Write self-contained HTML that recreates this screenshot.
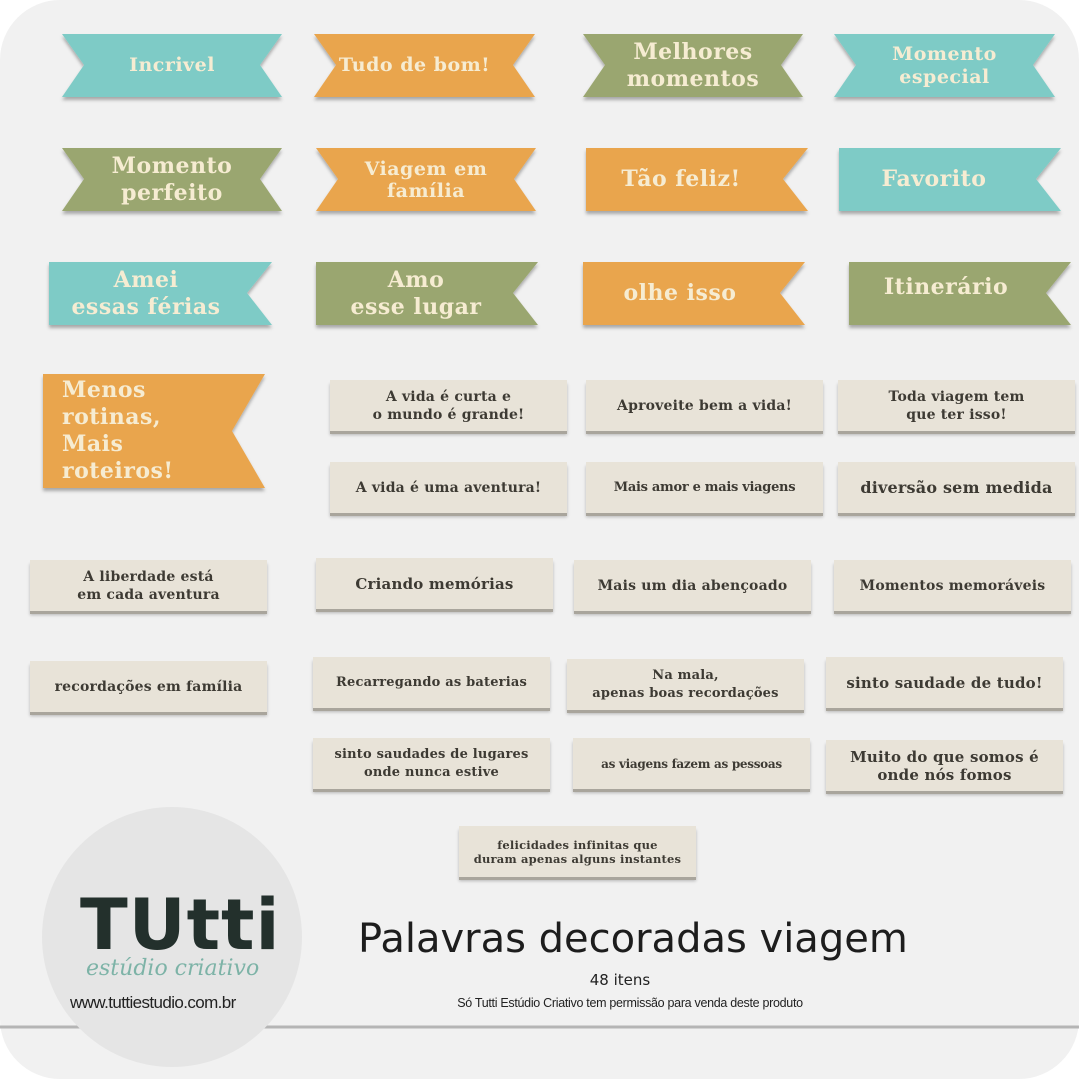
<!DOCTYPE html>
<html><head><meta charset="utf-8"><style>
html,body{margin:0;padding:0}
body{width:1079px;height:1079px;position:relative;overflow:hidden;background:#fff;font-family:"DejaVu Serif","Liberation Serif",serif}
.bg{position:absolute;left:0;top:0;width:1079px;height:1079px;background:#f1f1f1;border-radius:60px}
.l{position:absolute;width:237px;height:51px;background:#e8e3d8;box-shadow:0 3px 0 #a9a59c,0 4px 3px rgba(0,0,0,.25);display:flex;align-items:center;justify-content:center;text-align:center;font-weight:bold;font-size:14px;line-height:18px;color:#3d3a33;letter-spacing:0.2px}
.t{position:absolute;color:#f6ecd2;font-weight:bold;text-align:center;display:flex;align-items:center;justify-content:center;line-height:27px;font-size:22px;letter-spacing:0.5px}
svg{position:absolute;left:0;top:0}
</style></head><body>
<div class="bg"></div>
<svg width="1079" height="1079">
<defs><filter id="s" x="-5%" y="-5%" width="110%" height="120%"><feDropShadow dx="0" dy="3" stdDeviation="1.5" flood-color="#000" flood-opacity=".3"/></filter></defs>
<g filter="url(#s)">
<polygon fill="#7ecbc6" points="62,34 282,34 260,65 282,97 62,97 84,65"/>
<polygon fill="#e9a54e" points="314,34 535,34 513,65 535,97 314,97 336,65"/>
<polygon fill="#9aa66f" points="583,34 803,34 781,65 803,97 583,97 605,65"/>
<polygon fill="#7ecbc6" points="834,34 1055,34 1033,65 1055,97 834,97 856,65"/>
<polygon fill="#9aa66f" points="62,148 282,148 260,179 282,211 62,211 84,179"/>
<polygon fill="#e9a54e" points="316,148 536,148 514,179 536,211 316,211 338,179"/>
<polygon fill="#e9a54e" points="586,148 808,148 783,179 808,211 586,211"/>
<polygon fill="#7ecbc6" points="839,148 1061,148 1036,179 1061,211 839,211"/>
<polygon fill="#7ecbc6" points="49,262 272,262 247,293 272,325 49,325"/>
<polygon fill="#9aa66f" points="316,262 538,262 513,293 538,325 316,325"/>
<polygon fill="#e9a54e" points="583,262 805,262 780,293 805,325 583,325"/>
<polygon fill="#9aa66f" points="849,262 1071,262 1046,293 1071,325 849,325"/>
<polygon fill="#e9a54e" points="43,374 265,374 232,431 265,488 43,488"/>
</g>
<line x1="0" y1="1027" x2="1079" y2="1027" stroke="#b5b5b5" stroke-width="3"/>
<circle cx="172" cy="937" r="130" fill="#e5e5e5"/>
</svg>

<div class="t" style="left:84px;top:34px;width:176px;height:63px;font-size:19px">Incrivel</div>
<div class="t" style="left:326px;top:34px;width:177px;height:63px;font-size:19px">Tudo de bom!</div>
<div class="t" style="left:605px;top:34px;width:176px;height:63px">Melhores<br>momentos</div>
<div class="t" style="left:856px;top:34px;width:177px;height:63px;font-size:19px;line-height:23px">Momento<br>especial</div>
<div class="t" style="left:84px;top:148px;width:176px;height:63px">Momento<br>perfeito</div>
<div class="t" style="left:338px;top:148px;width:176px;height:63px;font-size:19px;line-height:22px">Viagem em<br>família</div>
<div class="t" style="left:586px;top:148px;width:190px;height:63px">Tão feliz!</div>
<div class="t" style="left:839px;top:148px;width:190px;height:63px">Favorito</div>
<div class="t" style="left:49px;top:262px;width:194px;height:63px">Amei<br>essas férias</div>
<div class="t" style="left:316px;top:262px;width:200px;height:63px">Amo<br>esse lugar</div>
<div class="t" style="left:583px;top:262px;width:194px;height:63px">olhe isso</div>
<div class="t" style="left:849px;top:256px;width:194px;height:63px">Itinerário</div>
<div class="t" style="left:62px;top:374px;width:170px;height:114px;justify-content:flex-start;text-align:left;font-size:22px">Menos<br>rotinas,<br>Mais<br>roteiros!</div>

<div class="l" style="left:330px;top:380px">A vida é curta e<br>o mundo é grande!</div>
<div class="l" style="left:586px;top:380px">Aproveite bem a vida!</div>
<div class="l" style="left:838px;top:380px">Toda viagem tem<br>que ter isso!</div>
<div class="l" style="left:330px;top:462px">A vida é uma aventura!</div>
<div class="l" style="left:586px;top:462px;font-size:13px;letter-spacing:-0.3px">Mais amor e mais viagens</div>
<div class="l" style="left:838px;top:462px;font-size:16px">diversão sem medida</div>
<div class="l" style="left:30px;top:560px">A liberdade está<br>em cada aventura</div>
<div class="l" style="left:316px;top:558px;font-size:15px">Criando memórias</div>
<div class="l" style="left:574px;top:560px">Mais um dia abençoado</div>
<div class="l" style="left:834px;top:560px">Momentos memoráveis</div>
<div class="l" style="left:30px;top:661px">recordações em família</div>
<div class="l" style="left:313px;top:657px;font-size:13px">Recarregando as baterias</div>
<div class="l" style="left:567px;top:659px;font-size:13px">Na mala,<br>apenas boas recordações</div>
<div class="l" style="left:826px;top:657px;font-size:15px">sinto saudade de tudo!</div>
<div class="l" style="left:313px;top:738px;font-size:13px">sinto saudades de lugares<br>onde nunca estive</div>
<div class="l" style="left:573px;top:738px;font-size:12px;letter-spacing:-0.3px">as viagens fazem as pessoas</div>
<div class="l" style="left:826px;top:740px;font-size:15px">Muito do que somos é<br>onde nós fomos</div>
<div class="l" style="left:459px;top:826px;font-size:11.5px;line-height:14px">felicidades infinitas que<br>duram apenas alguns instantes</div>

<div style="position:absolute;left:80px;top:892px;font-family:'DejaVu Sans',sans-serif;font-weight:bold;font-size:70px;line-height:66px;color:#23302c;letter-spacing:1px">TUtti</div>
<div style="position:absolute;left:86px;top:956px;font-family:'DejaVu Serif',serif;font-style:italic;font-size:22px;color:#7db3a7">estúdio criativo</div>
<div style="position:absolute;left:70px;top:993px;font-family:'Liberation Sans',sans-serif;font-size:17px;color:#222;letter-spacing:-0.6px">www.tuttiestudio.com.br</div>

<div style="position:absolute;left:358px;top:916px;font-family:'DejaVu Sans',sans-serif;font-size:40px;color:#1d1d1d;letter-spacing:0px;line-height:46px">Palavras decoradas viagem</div>
<div style="position:absolute;left:520px;top:971px;width:200px;text-align:center;font-family:'DejaVu Sans',sans-serif;font-size:15px;color:#222">48 itens</div>
<div style="position:absolute;left:410px;top:996px;width:440px;text-align:center;font-family:'Liberation Sans',sans-serif;font-size:12.5px;color:#222;letter-spacing:-0.3px">Só Tutti Estúdio Criativo  tem permissão para venda deste produto</div>
</body></html>
